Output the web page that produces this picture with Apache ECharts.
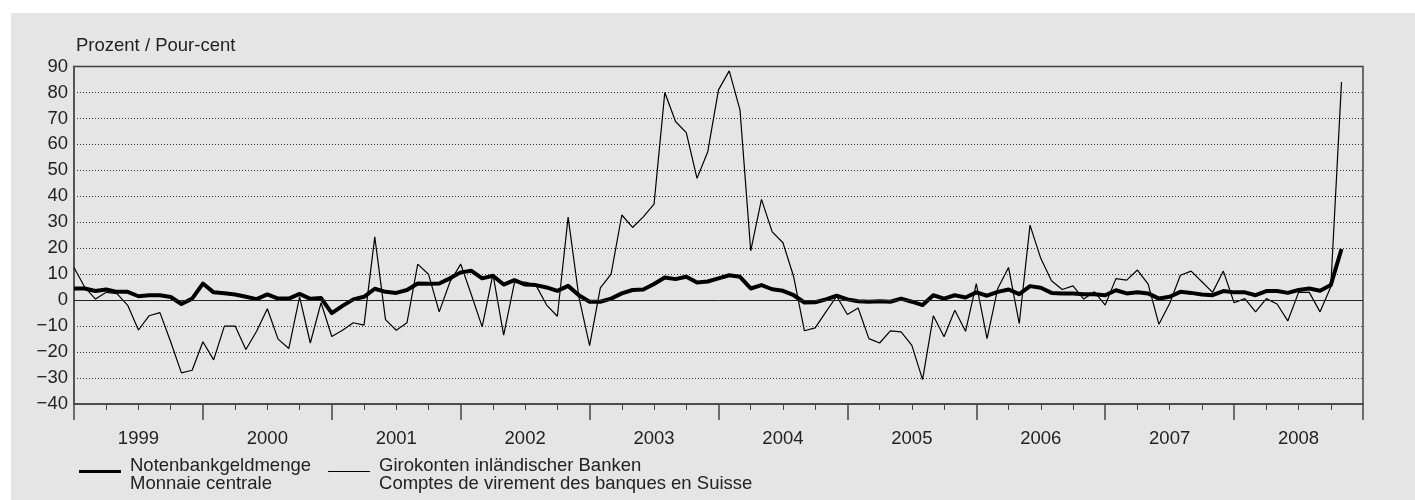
<!DOCTYPE html>
<html>
<head>
<meta charset="utf-8">
<script src="https://cdn.jsdelivr.net/npm/echarts@6/dist/echarts.min.js"></script>
<style>
  html, body { margin: 0; padding: 0; background: #fff; }
  #chart { width: 1415px; height: 500px; }
</style>
</head>
<body>
<div id="chart"></div>
<script>
// Jahre (Achsenbeschriftung), Monatsdaten ab Jan. 1999
const years = ['1999', '2000', '2001', '2002', '2003', '2004', '2005', '2006', '2007', '2008'];

// Notenbankgeldmenge / Monnaie centrale (dicke Linie)
const notenbank = [
  4.5, 4.5, 3.5, 4.1, 3.2, 3.2, 1.5, 1.9, 1.9, 1.2, -1.5, 0.6,
  6.4, 3, 2.7, 2.2, 1.3, 0.4, 2.2, 0.6, 0.6, 2.4, 0.5, 0.8,
  -5, -2.2, 0.3, 1.3, 4.4, 3.2, 2.8, 3.9, 6.4, 6.3, 6.4, 8.4,
  10.7, 11.3, 8.4, 9.4, 6, 7.7, 6, 5.8, 4.9, 3.6, 5.5, 1.9,
  -0.6, -0.6, 0.6, 2.6, 3.9, 4.1, 6.2, 8.7, 8.1, 9, 6.8, 7.2,
  8.4, 9.6, 9, 4.5, 5.8, 4.2, 3.6, 1.9, -0.9, -0.8, 0.3, 1.7,
  0.3, -0.4, -0.6, -0.4, -0.6, 0.6, -0.6, -1.9, 1.9, 0.6, 1.9, 1,
  3, 1.7, 3.2, 4.1, 2.3, 5.4, 4.8, 2.8, 2.6, 2.6, 2.3, 2.3,
  1.9, 3.8, 2.6, 3, 2.6, 0.6, 1.3, 3.2, 2.8, 2.2, 1.9, 3.5,
  3, 3, 1.9, 3.5, 3.5, 2.8, 3.9, 4.5, 3.6, 5.8, 19.7
];

// Girokonten inländischer Banken (dünne Linie)
const girokonten = [
  12.6, 5, 0.4, 3, 2.5, -2, -11.5, -6, -4.8, -16, -28, -27,
  -16, -23, -10, -10, -19, -12, -3.3, -15, -18.6, 1.3, -16.5, -1,
  -14, -11.6, -8.7, -9.6, 24.4, -7.5, -11.6, -8.7, 13.9, 10, -4.5, 7,
  13.9, 2, -10.3, 10, -13.5, 6.7, 7, 5.8, -1.9, -6.2, 32, 1.3,
  -17.5, 4.7, 10, 32.8, 28, 32.1, 37, 80, 68.8, 64.5, 46.9, 57.2,
  81, 88.3, 73.3, 19, 38.8, 26.3, 22.1, 9, -11.8, -10.7, -4.5, 1.5,
  -5.5, -3, -14.8, -16.5, -11.8, -12.2, -17.4, -30.6, -6, -14.1, -3.9, -12,
  6.4, -14.8, 4.5, 12.6, -9, 28.9, 16.1, 7.5, 4.1, 5.5, 0.4, 3.2,
  -1.9, 8.3, 7.7, 11.6, 6.2, -9.3, -1.3, 9.6, 11.2, 7.1, 3, 11.2,
  -1, 0.6, -4.5, 0.6, -1.5, -8, 3, 3, -4.5, 5.1, 84
];

const FONT = 'Liberation Sans';
const TXT = '#222';
const FS = 18.5;

// Legenden-Symbole: Linie im oberen Teil einer 42x12-Box
const ICON_THICK = 'path://M0,0 L0.01,0 L0.01,12 L0,12 Z M0,1.5 L42,1.5 L42,4.5 L0,4.5 Z';
const ICON_THIN = 'path://M0,0 L0.01,0 L0.01,12 L0,12 Z M0,2.5 L42,2.5 L42,3.5 L0,3.5 Z';

const chart = echarts.init(document.getElementById('chart'), null, { renderer: 'canvas' });

chart.setOption({
  animation: false,
  backgroundColor: '#fff',
  textStyle: { fontFamily: FONT, color: TXT },
  graphic: [{
    type: 'rect',
    z: -10,
    shape: { x: 11, y: 13, width: 1404, height: 487 },
    style: { fill: '#e5e5e5' }
  }],
  title: {
    text: 'Prozent / Pour-cent',
    left: 71,
    top: 31,
    textStyle: { fontFamily: FONT, fontSize: FS, fontWeight: 'normal', color: TXT }
  },
  grid: {
    left: 74,
    right: 52,
    top: 66.5,
    bottom: 96,
    show: true,
    backgroundColor: 'transparent',
    borderColor: '#444',
    borderWidth: 1.5
  },
  legend: {
    left: 74,
    top: 451,
    orient: 'horizontal',
    itemWidth: 42,
    itemHeight: 12,
    itemGap: 17,
    textStyle: { fontFamily: FONT, fontSize: FS, color: TXT, lineHeight: 18, padding: [0, 0, 0, 4] },
    data: [
      { name: 'Notenbankgeldmenge\nMonnaie centrale', icon: ICON_THICK, itemStyle: { color: '#000' } },
      { name: 'Girokonten inländischer Banken\nComptes de virement des banques en Suisse', icon: ICON_THIN, itemStyle: { color: '#000' } }
    ]
  },
  xAxis: [{
    type: 'value',
    min: 0,
    max: 120,
    interval: 12,
    axisLine: { show: true, onZero: false, lineStyle: { color: '#444', width: 1.5 } },
    axisTick: { show: true, length: 16, lineStyle: { color: '#444', width: 1.5 } },
    minorTick: { show: true, splitNumber: 4, length: 6, lineStyle: { color: '#444', width: 1 } },
    axisLabel: { show: false },
    splitLine: { show: false }
  }, {
    type: 'value',
    position: 'bottom',
    min: 0,
    max: 120,
    interval: 6,
    axisLine: { show: false, onZero: false },
    axisTick: { show: false },
    splitLine: { show: false },
    axisLabel: {
      margin: 25,
      fontFamily: FONT,
      fontSize: FS,
      color: TXT,
      showMinLabel: false,
      showMaxLabel: false,
      formatter: function (v) {
        return (v / 6) % 2 === 1 ? years[(v - 6) / 12] : '';
      }
    }
  }],
  yAxis: {
    type: 'value',
    min: -40,
    max: 90,
    interval: 10,
    axisLine: { show: true, lineStyle: { color: '#555', width: 2 } },
    axisTick: { show: false },
    axisLabel: {
      margin: 6,
      fontFamily: FONT,
      fontSize: FS,
      color: TXT,
      formatter: function (v) { return String(v).replace('-', '\u2212'); }
    },
    splitLine: { show: true, lineStyle: { color: '#333', width: 1, type: [1, 2] } }
  },
  series: [{
    name: 'Notenbankgeldmenge\nMonnaie centrale',
    type: 'line',
    xAxisIndex: 0,
    data: notenbank.map((v, i) => [i, v]),
    symbol: 'none',
    z: 4,
    lineStyle: { color: '#000', width: 4, join: 'round' },
    itemStyle: { color: '#000' },
    markLine: {
      silent: true,
      symbol: 'none',
      label: { show: false },
      lineStyle: { color: '#222', width: 1, type: 'solid' },
      data: [{ yAxis: 0 }]
    }
  }, {
    name: 'Girokonten inländischer Banken\nComptes de virement des banques en Suisse',
    type: 'line',
    xAxisIndex: 0,
    data: girokonten.map((v, i) => [i, v]),
    symbol: 'none',
    z: 3,
    lineStyle: { color: '#000', width: 1.2 },
    itemStyle: { color: '#000' }
  }]
});
</script>
</body>
</html>
